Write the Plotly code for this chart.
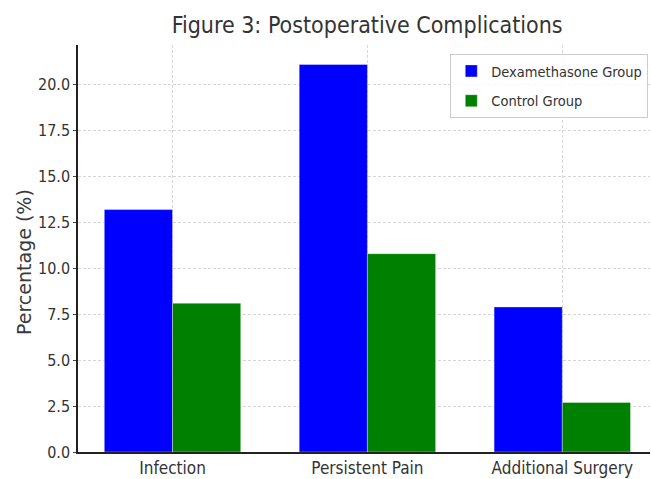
import plotly.graph_objects as go

# Complication categories and rates (%) for each group
categories = ["Infection", "Persistent Pain", "Additional Surgery"]
dexamethasone = [13.2, 21.1, 7.9]
control = [8.1, 10.8, 2.7]
y_ticks = [0.0, 2.5, 5.0, 7.5, 10.0, 12.5, 15.0, 17.5, 20.0]
y_tick_text = [f"{v:.1f}" for v in y_ticks]

FONT = "DejaVu Sans Condensed, DejaVu Sans, sans-serif"
TEXT = "#333333"
EDGE = dict(color="rgba(255,255,255,0.6)", width=0.6)
W, H = 651, 479

fig = go.Figure()
fig.add_trace(go.Bar(
    x=categories, y=dexamethasone, name="Dexamethasone Group",
    legendgroup="dex", marker=dict(color="#0000ff", line=EDGE),
))
fig.add_trace(go.Bar(
    x=categories, y=control, name="Control Group",
    legendgroup="ctl", marker=dict(color="#008000", line=EDGE),
))

grid = dict(showgrid=True, gridcolor="#d6d6d6", griddash="3px,2px", gridwidth=1)

fig.update_layout(
    width=W, height=H,
    margin=dict(l=78, r=1, t=45, b=27),
    paper_bgcolor="white", plot_bgcolor="white",
    barmode="group", bargap=0.3, bargroupgap=0.0,
    title=dict(
        text="Figure 3: Postoperative Complications",
        font=dict(family=FONT, size=23, color=TEXT),
        x=0.564, xanchor="center", y=0.947, yanchor="middle",
    ),
    legend=dict(
        x=0.997, xanchor="right", y=0.978, yanchor="top",
        bgcolor="rgba(255,255,255,0.85)", bordercolor="#cccccc", borderwidth=1,
        font=dict(family=FONT, size=14.5, color=TEXT),
        tracegroupgap=8,
    ),
    xaxis=dict(
        range=[-0.485, 2.45],
        showline=True, linecolor="#222222", linewidth=1.5,
        ticks="", tickfont=dict(family=FONT, size=17, color=TEXT),
        zeroline=False, **grid,
    ),
    yaxis=dict(
        range=[0, 22.16],
        tickvals=y_ticks, ticktext=y_tick_text,
        showline=True, linecolor="#222222", linewidth=1.5,
        ticks="outside", ticklen=3, tickcolor="#444444",
        tickfont=dict(family=FONT, size=16, color=TEXT),
        zeroline=False, **grid,
    ),
    annotations=[dict(
        text="Percentage (%)", textangle=-90,
        xref="paper", yref="paper",
        x=-(78 - 24) / (W - 79), y=(H - 27 - 262) / (H - 72),
        xanchor="center", yanchor="middle", showarrow=False,
        font=dict(family="DejaVu Sans, sans-serif", size=19, color="#3a3a3a"),
    )],
)

fig.write_html("out.html")
